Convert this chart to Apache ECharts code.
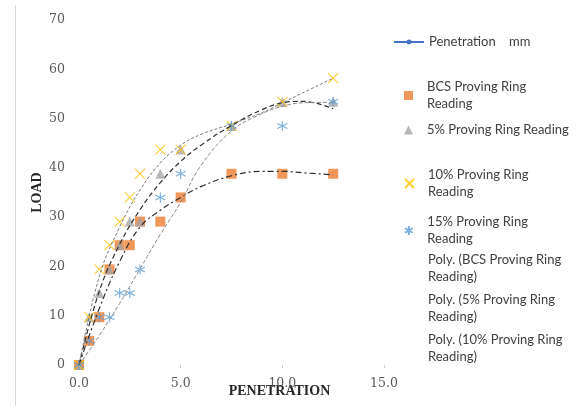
<!DOCTYPE html>
<html>
<head>
<meta charset="utf-8">
<script src="https://cdn.jsdelivr.net/npm/echarts@6/dist/echarts.min.js"></script>
<style>
html,body{margin:0;padding:0;background:#fff;}
#chart{width:583px;height:406px;}
</style>
</head>
<body>
<div id="chart"></div>
<script>
// ---- data ----
var penetration = [0, 0.5, 1.0, 1.5, 2.0, 2.5, 3.0, 4.0, 5.0, 7.5, 10.0, 12.5];
var bcsLoad     = [0, 4.9, 9.7, 19.4, 24.3, 24.3, 29.1, 29.1, 34.0, 38.8, 38.8, 38.8];
var load5       = [0, 9.7, 14.6, 19.4, 24.3, 29.1, 29.1, 38.8, 43.7, 48.5, 53.4, 53.4];
var load10      = [0, 9.7, 19.4, 24.3, 29.1, 34.0, 38.8, 43.7, 43.7, 48.5, 53.4, 58.2];
var load15      = [0, 4.9, 9.7, 9.7, 14.6, 14.6, 19.4, 34.0, 38.8, 48.5, 48.5, 53.4];

// trendline curves
var trendX      = [0, 1, 2, 3, 4, 5, 6, 7.5, 9, 10, 11, 12.5];
var trendBCS    = [0, 11.5, 21, 28, 31.4, 34, 36.2, 38.4, 39.3, 39.3, 39.0, 38.6];
var trend5      = [0, 15, 24.5, 31.5, 37, 41.3, 44.6, 48.6, 51.8, 53.2, 53.5, 52.0];
var trend10     = [0, 18, 28, 35.5, 41, 44.6, 46.8, 48.9, 51.2, 53.2, 55.2, 58.2];
var trend15     = [0, 6, 12.5, 19.5, 26.5, 33, 40.5, 47.5, 51, 52.5, 53.2, 53.3];

var yTicks = [0, 10, 20, 30, 40, 50, 60, 70];
var xTicks = [0, 5, 10, 15];

var names = {
  pen: 'Penetration    mm',
  bcs: 'BCS Proving Ring Reading',
  p5: '5% Proving Ring Reading',
  p10: '10% Proving Ring Reading',
  p15: '15% Proving Ring Reading',
  tBCS: 'Poly. (BCS Proving Ring Reading)',
  t5: 'Poly. (5% Proving Ring Reading)',
  t10: 'Poly. (10% Proving Ring Reading)',
  t15: 'Poly. (15% Proving Ring Reading)'
};
var legendText = {};
legendText[names.pen] = 'Penetration    mm';
legendText[names.bcs] = 'BCS Proving Ring\nReading';
legendText[names.p5] = '5% Proving Ring Reading';
legendText[names.p10] = '10% Proving Ring\nReading';
legendText[names.p15] = '15% Proving Ring\nReading';
legendText[names.tBCS] = 'Poly. (BCS Proving Ring\nReading)';
legendText[names.t5] = 'Poly. (5% Proving Ring\nReading)';
legendText[names.t10] = 'Poly. (10% Proving Ring\nReading)';

function zip(xs, ys) { return xs.map(function (x, i) { return [x, ys[i]]; }); }

var crossPath = 'path://M0,0L10,10M10,0L0,10';
var starPath = 'path://M5,0L5,10M0.7,2.5L9.3,7.5M0.7,7.5L9.3,2.5';

var legendFont = {fontFamily: 'Lato', fontSize: 13, color: '#404040', lineHeight: 17};

function lineLegend(name, top, icon) {
  var d = {name: name};
  if (icon) d.icon = icon;
  return {
    data: [d], orient: 'vertical', left: 393, top: top, padding: 0,
    itemWidth: 30, itemHeight: 6, itemGap: 0, selectedMode: false,
    formatter: function (n) { return legendText[n]; },
    textStyle: legendFont
  };
}
function markLegend(name, top) {
  return {
    data: [{name: name}], orient: 'vertical', left: 404, top: top, padding: 0,
    itemWidth: 9, itemHeight: 9, itemGap: 0, selectedMode: false,
    formatter: function (n) { return legendText[n]; },
    textStyle: {fontFamily: 'Lato', fontSize: 13, color: '#404040', lineHeight: 17, padding: [0, 0, 0, 9]}
  };
}

var chart = echarts.init(document.getElementById('chart'), null, {renderer: 'canvas'});
chart.setOption({
  animation: false,
  backgroundColor: '#ffffff',
  grid: {left: 79, top: 20, width: 305, height: 345, containLabel: false, outerBoundsMode: 'none'},
  xAxis: {
    type: 'value', min: xTicks[0], max: xTicks[xTicks.length - 1], interval: 5,
    axisLine: {show: false},
    axisTick: {show: true, length: 3, lineStyle: {color: '#d0d0d0'}},
    splitLine: {show: false},
    axisLabel: {margin: 12, fontFamily: 'DejaVu Serif', fontSize: 12.5, color: '#595959',
      formatter: function (v) { return v.toFixed(1); }},
    name: 'PENETRATION', nameLocation: 'middle', nameGap: 19, nameMoveOverlap: false,
    nameTextStyle: {fontFamily: 'Liberation Serif', fontWeight: 'bold', fontSize: 14, color: '#262626', padding: [0, 0, 0, 96]}
  },
  yAxis: {
    type: 'value', min: yTicks[0], max: yTicks[yTicks.length - 1], interval: 10,
    axisLine: {show: false}, axisTick: {show: false}, splitLine: {show: false},
    axisLabel: {margin: 14, fontFamily: 'DejaVu Serif', fontSize: 12.5, color: '#595959'},
    name: 'LOAD', nameLocation: 'middle', nameGap: 35, nameRotate: 90, nameMoveOverlap: false,
    nameTextStyle: {fontFamily: 'Liberation Serif', fontWeight: 'bold', fontSize: 14, color: '#262626'}
  },
  legend: [
    lineLegend(names.pen, 33.5),
    markLegend(names.bcs, 78.5),
    markLegend(names.p5, 121.5),
    markLegend(names.p10, 166.5),
    markLegend(names.p15, 213.5),
    lineLegend(names.tBCS, 251.5, 'none'),
    lineLegend(names.t5, 291.5, 'none'),
    lineLegend(names.t10, 331.5, 'none')
  ],
  graphic: [{
    type: 'line', shape: {x1: 15.5, y1: 5, x2: 15.5, y2: 406},
    style: {stroke: '#d9d9d9', lineWidth: 1}, silent: true
  }],
  series: [
    {name: names.pen, type: 'line', data: [], symbol: 'circle', symbolSize: 5,
      itemStyle: {color: '#4472C4'}, lineStyle: {color: '#4472C4', width: 2}},
    {name: names.bcs, type: 'scatter', data: zip(penetration, bcsLoad), symbol: 'rect', symbolSize: 10,
      itemStyle: {color: '#ED7D31'}, z: 2},
    {name: names.p5, type: 'scatter', data: zip(penetration, load5), symbol: 'triangle', symbolSize: 10,
      itemStyle: {color: '#A5A5A5'}, z: 2},
    {name: names.p10, type: 'scatter', data: zip(penetration, load10), symbol: crossPath, symbolSize: 10,
      itemStyle: {color: 'rgba(0,0,0,0)', borderColor: '#FFC000', borderWidth: 1.1}, z: 2},
    {name: names.p15, type: 'scatter', data: zip(penetration, load15), symbol: starPath, symbolSize: 10,
      itemStyle: {color: 'rgba(0,0,0,0)', borderColor: '#5B9BD5', borderWidth: 1.1}, z: 2},
    {name: names.tBCS, type: 'line', data: zip(trendX, trendBCS), smooth: 0.4, showSymbol: false, symbol: 'none',
      lineStyle: {color: '#303030', width: 1.2, type: [6, 3, 2, 3]}, itemStyle: {color: '#303030'}, z: 3},
    {name: names.t5, type: 'line', data: zip(trendX, trend5), smooth: 0.4, showSymbol: false, symbol: 'none',
      lineStyle: {color: '#303030', width: 1.2, type: [5, 3]}, itemStyle: {color: '#303030'}, z: 3},
    {name: names.t10, type: 'line', data: zip(trendX, trend10), smooth: 0.4, showSymbol: false, symbol: 'none',
      lineStyle: {color: '#7a7a7a', width: 1, type: [3, 2]}, itemStyle: {color: '#7a7a7a'}, z: 3},
    {name: names.t15, type: 'line', data: zip(trendX, trend15), smooth: 0.4, showSymbol: false, symbol: 'none',
      lineStyle: {color: '#8a8a8a', width: 1, type: [4, 2]}, itemStyle: {color: '#8a8a8a'}, z: 3}
  ]
});
</script>
</body>
</html>
